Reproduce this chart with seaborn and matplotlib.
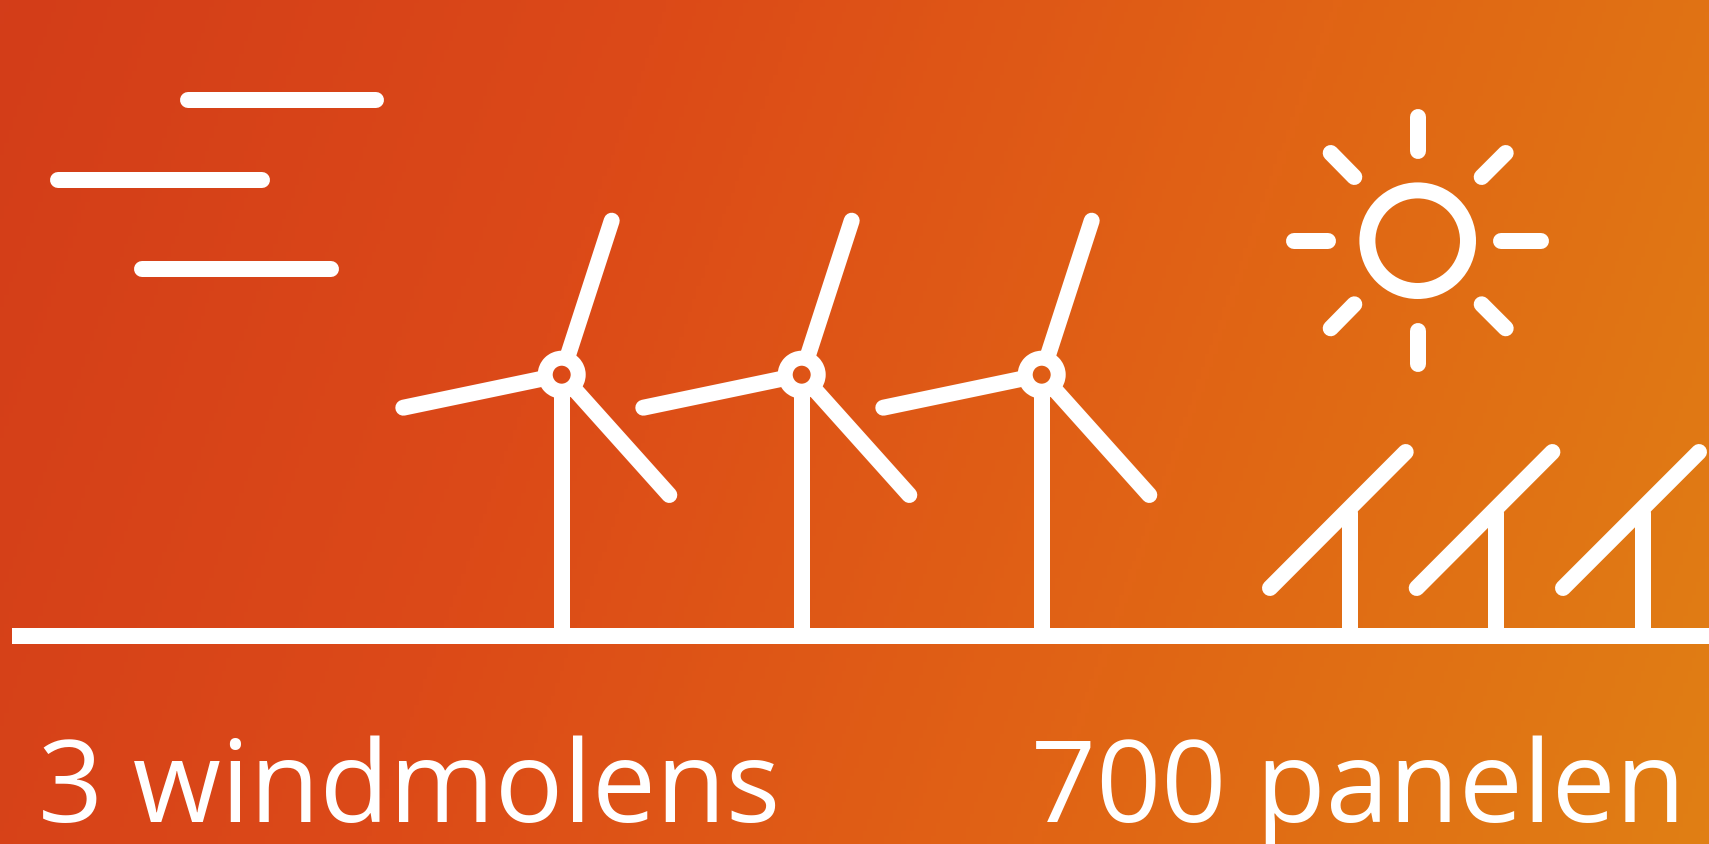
import seaborn as sns
import matplotlib.pyplot as plt
import pandas as pd
import numpy as np
from matplotlib.colors import LinearSegmentedColormap

# wind streaks top left
wind_y = [100.5, 181, 269.5]
wind_start = [188, 58, 142]
wind_end = [376, 262, 331]

# windmills, blades relative to the hub
hub_x = [561.7, 801.7, 1041.7]
hub_y = 375.7
blade_inner_dx = [6.5, -18, 15]
blade_inner_dy = [-20, 3.7, 17]
blade_outer_dx = [50, -158.4, 107.6]
blade_outer_dy = [-154, 33, 120.3]

ground_y = 636.5
ground_start = 12
ground_end = 1709

# sun
sun_x = 1417.7
sun_y = 241.7
ray_x0 = [0, 0, -123.4, 83.6, -87, 88, -63.4, 64]
ray_y0 = [-123.7, 90.3, 0, 0, -87.7, -87.7, 63.6, 63.6]
ray_x1 = [0, 0, -90, 123.6, -63.4, 64, -87, 88]
ray_y1 = [-90, 123.3, 0, 0, -63.7, -63.7, 87.6, 87.6]

# solar panels
panel_start_x = [1270, 1416.7, 1563]
panel_end_x = [1405.7, 1552.4, 1699]
panel_start_y = 589
panel_end_y = 453
post_x = [1349.7, 1496, 1643]
post_top = 514

labels = ['3 windmolens', '700 panelen']
label_x = [38, 1031]
label_y = 821.7

bg_colors = ['#D33D19', '#DC4A18', '#E16415', '#E07F14']

sns.set_theme(style='white')
plt.rcParams['font.family'] = ['Open Sans', 'DejaVu Sans']

rows = []
def add_stroke(x0, y0, x1, y1):
    seg = len(rows) // 2
    rows.append({'seg': seg, 'order': 0, 'x': x0, 'y': y0})
    rows.append({'seg': seg, 'order': 1, 'x': x1, 'y': y1})

for y, a, b in zip(wind_y, wind_start, wind_end):
    add_stroke(a, y, b, y)
for hx in hub_x:
    add_stroke(hx, hub_y + 20, hx, ground_y)
    for i in range(3):
        add_stroke(hx + blade_inner_dx[i], hub_y + blade_inner_dy[i],
                   hx + blade_outer_dx[i], hub_y + blade_outer_dy[i])
for i in range(8):
    add_stroke(sun_x + ray_x0[i], sun_y + ray_y0[i], sun_x + ray_x1[i], sun_y + ray_y1[i])
for i in range(3):
    add_stroke(panel_start_x[i], panel_start_y, panel_end_x[i], panel_end_y)
    add_stroke(post_x[i], post_top, post_x[i], ground_y + 0.5)
strokes = pd.DataFrame(rows)
ground = pd.DataFrame({'x': [ground_start, ground_end], 'y': [ground_y, ground_y]})

fig = plt.figure(figsize=(17.09, 8.45), dpi=100)
ax = fig.add_axes([0, 0, 1, 1])

# background gradient, slightly diagonal
cmap = LinearSegmentedColormap.from_list('bg', bg_colors)
xx, yy = np.meshgrid(np.linspace(0, 1, 400), np.linspace(0, 1, 200))
ax.imshow(xx * 0.85 + yy * 0.15, cmap=cmap, extent=[0, 1709, 845, 0], aspect='auto', vmin=0, vmax=1)

px = 72 / 100
sns.lineplot(data=strokes, x='x', y='y', units='seg', estimator=None, sort=False,
             color='white', linewidth=16 * px, solid_capstyle='round', ax=ax, legend=False)
sns.lineplot(data=ground, x='x', y='y', estimator=None, sort=False,
             color='white', linewidth=16 * px, solid_capstyle='butt', ax=ax, legend=False)

# hubs and sun ring
sns.scatterplot(x=hub_x, y=[hub_y] * 3, s=(33 * px) ** 2, facecolor='none',
                edgecolor='white', linewidth=15 * px, ax=ax, legend=False)
sns.scatterplot(x=[sun_x], y=[sun_y], s=(100.6 * px) ** 2, facecolor='none',
                edgecolor='white', linewidth=16 * px, ax=ax, legend=False)

for t, x in zip(labels, label_x):
    ax.text(x, label_y, t, color='white', fontsize=82, va='baseline', ha='left')

ax.set_xlim(0, 1709)
ax.set_ylim(845, 0)
ax.axis('off')
fig.savefig('out.png', dpi=100)
